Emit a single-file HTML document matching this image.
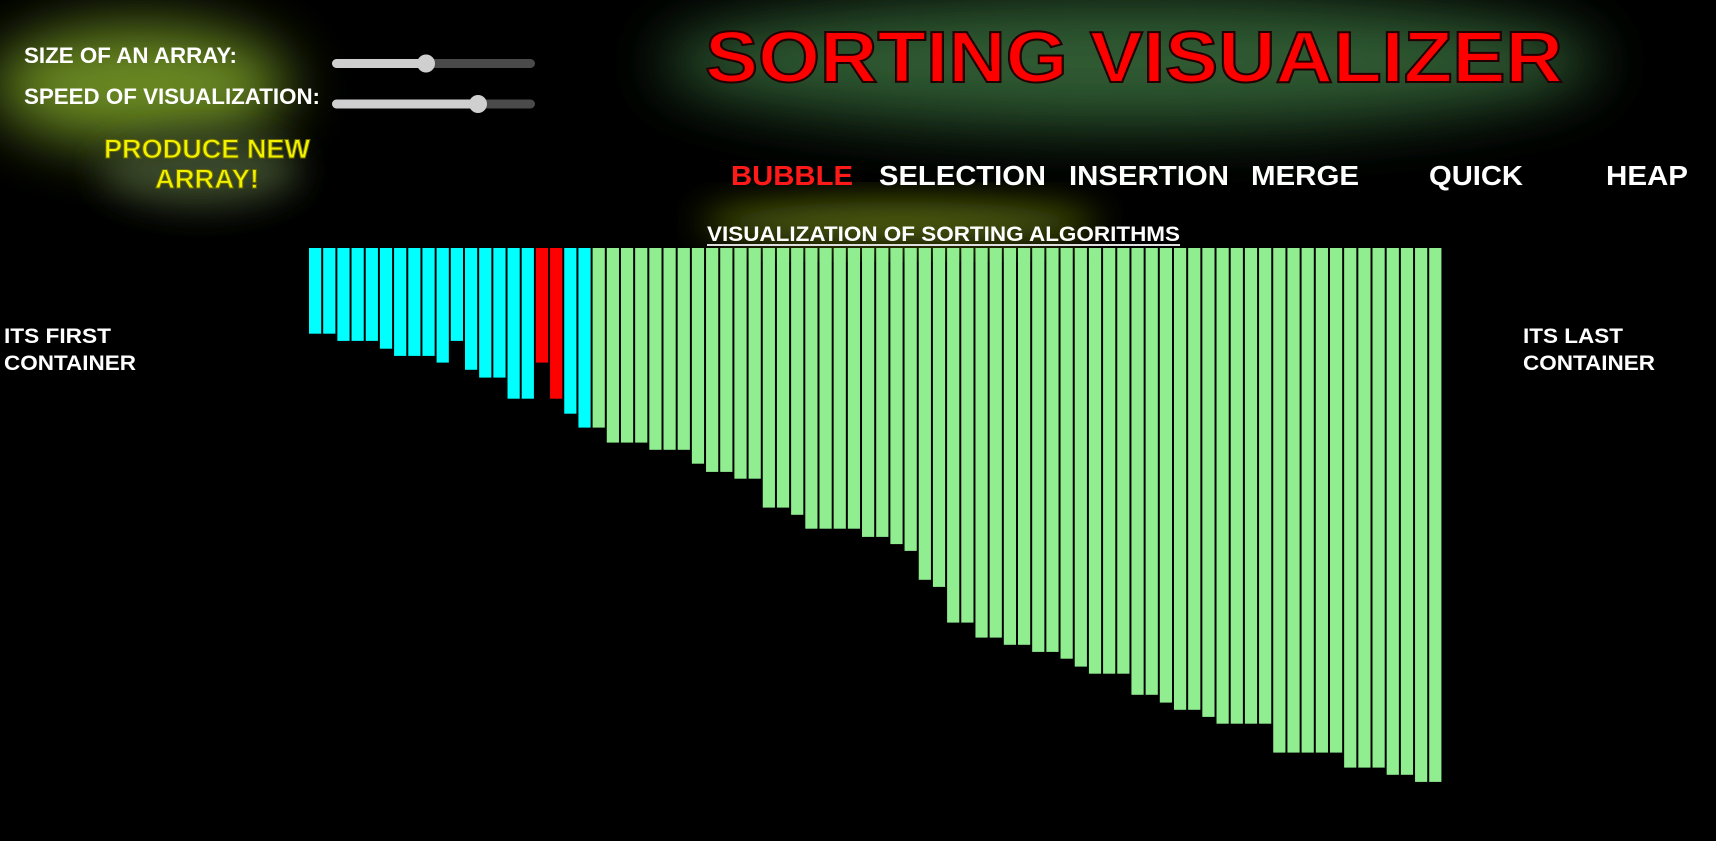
<!DOCTYPE html>
<html><head><meta charset="utf-8"><style>
html,body{margin:0;padding:0;background:#000;width:1716px;height:841px;overflow:hidden}
svg{display:block}
text{font-family:"Liberation Sans",Arial,sans-serif;font-weight:bold}
</style></head><body>
<svg id="page" width="1716" height="841" viewBox="0 0 1716 841" xmlns="http://www.w3.org/2000/svg">
<defs>
<filter id="blur40" x="-50%" y="-50%" width="200%" height="200%"><feGaussianBlur stdDeviation="30"/></filter>
<filter id="blur20" x="-50%" y="-50%" width="200%" height="200%"><feGaussianBlur stdDeviation="18"/></filter>
</defs>
<ellipse cx="1130" cy="62" rx="470" ry="65" fill="#2f5a33" filter="url(#blur40)"/>
<ellipse cx="140" cy="85" rx="150" ry="60" fill="#6a8a22" filter="url(#blur40)"/>
<ellipse cx="200" cy="170" rx="100" ry="35" fill="#3a4a2a" filter="url(#blur20)"/>
<ellipse cx="900" cy="222" rx="200" ry="20" fill="#5a6a10" filter="url(#blur20)"/>

<text x="24" y="63" font-size="22" fill="#fff" textLength="213" lengthAdjust="spacingAndGlyphs">SIZE OF AN ARRAY:</text>
<text x="24" y="104" font-size="22" fill="#fff" textLength="296" lengthAdjust="spacingAndGlyphs">SPEED OF VISUALIZATION:</text>

<g>
<rect x="332" y="59" width="203" height="9" rx="4.5" fill="#4a4a4a"/>
<rect x="332" y="59" width="94" height="9" rx="4.5" fill="#cfcfcf"/>
<circle cx="426" cy="63.5" r="9" fill="#cfcfcf"/>
</g>
<g>
<rect x="332" y="99.5" width="203" height="9" rx="4.5" fill="#4a4a4a"/>
<rect x="332" y="99.5" width="146" height="9" rx="4.5" fill="#cfcfcf"/>
<circle cx="478" cy="104" r="9" fill="#cfcfcf"/>
</g>

<g>
<text x="207" y="158" font-size="27" fill="#f2f200" stroke="#6a6a00" stroke-width="1" text-anchor="middle" textLength="206" lengthAdjust="spacingAndGlyphs">PRODUCE NEW</text>
<text x="207" y="188" font-size="27" fill="#f2f200" stroke="#6a6a00" stroke-width="1" text-anchor="middle" textLength="104" lengthAdjust="spacingAndGlyphs">ARRAY!</text>
</g>

<text x="705" y="82" font-size="72" fill="#ff0000" stroke="#200000" stroke-width="2" textLength="858" lengthAdjust="spacingAndGlyphs">SORTING VISUALIZER</text>

<g>
<text x="731" y="185" font-size="28" fill="#ff1a1a" textLength="122" lengthAdjust="spacingAndGlyphs">BUBBLE</text>
<text x="879" y="185" font-size="28" fill="#fff" textLength="167" lengthAdjust="spacingAndGlyphs">SELECTION</text>
<text x="1069" y="185" font-size="28" fill="#fff" textLength="160" lengthAdjust="spacingAndGlyphs">INSERTION</text>
<text x="1251" y="185" font-size="28" fill="#fff" textLength="108" lengthAdjust="spacingAndGlyphs">MERGE</text>
<text x="1429" y="185" font-size="28" fill="#fff" textLength="94" lengthAdjust="spacingAndGlyphs">QUICK</text>
<text x="1606" y="185" font-size="28" fill="#fff" textLength="82" lengthAdjust="spacingAndGlyphs">HEAP</text>
</g>

<text x="707" y="241" font-size="21" fill="#fff" textLength="473" lengthAdjust="spacingAndGlyphs">VISUALIZATION OF SORTING ALGORITHMS</text>
<rect x="707" y="244" width="473" height="2" fill="#ddd"/>

<text x="4" y="343" font-size="21" fill="#fff" textLength="107" lengthAdjust="spacingAndGlyphs">ITS FIRST</text>
<text x="4" y="370" font-size="21" fill="#fff" textLength="132" lengthAdjust="spacingAndGlyphs">CONTAINER</text>
<text x="1523" y="343" font-size="21" fill="#fff" textLength="100" lengthAdjust="spacingAndGlyphs">ITS LAST</text>
<text x="1523" y="370" font-size="21" fill="#fff" textLength="132" lengthAdjust="spacingAndGlyphs">CONTAINER</text>

<g id="bars"></g>
</svg>
<script>
const values = [85.7,85.7,92.9,92.9,92.9,100.7,107.9,107.9,107.9,114.6,92.9,121.8,129.6,129.6,150.7,150.7,
114.6,150.7,165.7,179.6,
179.6,194.6,194.6,194.6,201.8,201.8,201.8,215.7,223.9,223.9,230.7,230.7,259.6,259.6,266.8,280.7,280.7,280.7,280.7,
288.9,288.9,296.1,302.9,331.8,338.9,374.6,374.6,389.6,389.6,396.8,396.8,403.9,403.9,410.7,418.6,425.7,425.7,425.7,446.8,446.8,454.6,461.8,461.8,468.9,475.7,475.7,475.7,475.7,504.6,504.6,504.6,504.6,504.6,519.6,519.6,519.6,526.8,526.8,533.9,533.9];
const states = ["u","u","u","u","u","u","u","u","u","u","u","u","u","u","u","u",
"c","c","u","u",
"s","s","s","s","s","s","s","s","s","s","s","s","s","s","s","s","s","s","s",
"s","s","s","s","s","s","s","s","s","s","s","s","s","s","s","s","s","s","s","s","s","s","s","s","s","s","s","s","s","s","s","s","s","s","s","s","s","s","s","s","s"];
const stateColors = {u:"#00ffff", c:"#ff0000", s:"#90ee90"};
const X0 = 309, PITCH = 14.18, BW = 12.2, TOP = 248, YSCALE = 1;
function xPos(i){ return X0 + i*PITCH; }
function hPos(v){ return v*YSCALE; }
const g = document.getElementById('bars');
values.forEach((v,i)=>{
  const r = document.createElementNS('http://www.w3.org/2000/svg','rect');
  r.setAttribute('x', xPos(i));
  r.setAttribute('y', TOP);
  r.setAttribute('width', BW);
  r.setAttribute('height', hPos(v));
  r.setAttribute('fill', stateColors[states[i]]);
  
  
  g.appendChild(r);
});
</script>
</body></html>
